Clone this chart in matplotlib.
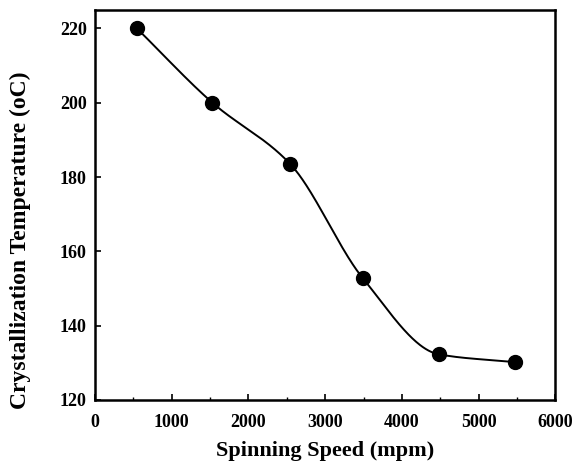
import numpy as np
import matplotlib
matplotlib.use('Agg')
import matplotlib.pyplot as plt
from matplotlib.ticker import MultipleLocator

# spinning speed (mpm) vs crystallization temperature (oC)
speed = np.array([545, 1530, 2540, 3490, 4480, 5470])
temp = np.array([220.0, 200.0, 183.6, 152.8, 132.3, 130.2])

xticks = [0, 1000, 2000, 3000, 4000, 5000, 6000]
yticks = [120, 140, 160, 180, 200, 220]


def pchip(x, y, xs):
    """monotone cubic through the points, for the smooth line"""
    h = np.diff(x)
    d = np.diff(y) / h
    m = np.zeros(len(x))
    for k in range(1, len(x) - 1):
        if d[k-1] * d[k] > 0:
            w1 = 2*h[k] + h[k-1]
            w2 = h[k] + 2*h[k-1]
            m[k] = (w1 + w2) / (w1/d[k-1] + w2/d[k])
    m[0] = d[0]
    m[-1] = d[-1]
    out = np.empty_like(xs)
    for j, xx in enumerate(xs):
        k = min(np.searchsorted(x, xx, side='right') - 1, len(x) - 2)
        t = (xx - x[k]) / h[k]
        h00 = 2*t**3 - 3*t**2 + 1
        h10 = t**3 - 2*t**2 + t
        h01 = -2*t**3 + 3*t**2
        h11 = t**3 - t**2
        out[j] = h00*y[k] + h10*h[k]*m[k] + h01*y[k+1] + h11*h[k]*m[k+1]
    return out


plt.rcParams['font.family'] = ['Liberation Serif', 'DejaVu Serif']
plt.rcParams['font.weight'] = 'bold'

fig = plt.figure(figsize=(5.73, 4.70), dpi=100)
ax = fig.add_axes([0.166, 0.149, 0.803, 0.830])

xs = np.linspace(speed[0], speed[-1], 400)
ax.plot(xs, pchip(speed, temp, xs), color='black', lw=1.4)
ax.plot(speed, temp, 'o', color='black', ms=10)

ax.set_xlim(0, 6000)
ax.set_ylim(120, 225)
ax.set_xticks(xticks)
ax.set_yticks(yticks)
ax.xaxis.set_minor_locator(MultipleLocator(500))
ax.tick_params(direction='in', length=4, width=1.2, labelsize=13)
ax.tick_params(axis='x', pad=10)
ax.tick_params(axis='y', pad=6)
ax.tick_params(which='minor', direction='in', length=2, width=1)
for lab in ax.get_xticklabels() + ax.get_yticklabels():
    lab.set_fontweight('bold')
for s in ax.spines.values():
    s.set_linewidth(1.8)

ax.set_xlabel('Spinning Speed (mpm)', fontsize=16, fontweight='bold')
ax.set_ylabel('Crystallization Temperature (oC)', fontsize=17, fontweight='bold')
ax.xaxis.set_label_coords(0.5, -0.105)
ax.yaxis.set_label_coords(-0.14, 0.41)

fig.savefig('out.png', dpi=100)
